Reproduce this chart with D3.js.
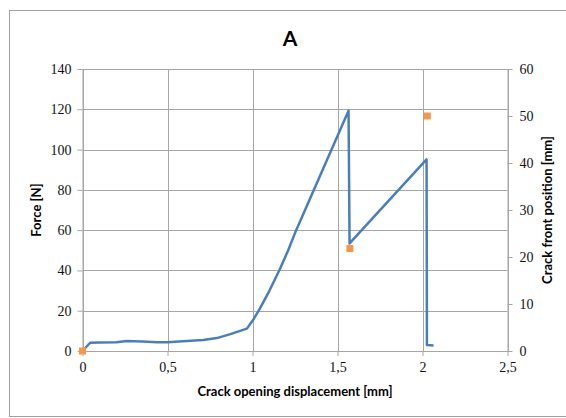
<!DOCTYPE html>
<html><head><meta charset="utf-8">
<script src="https://cdn.jsdelivr.net/npm/d3@7"></script>
<style>body{margin:0;background:#fff}svg{display:block}</style>
</head><body><svg id="c" width="566" height="418"></svg>
<script>
const title = "A";
const xLabel = "Crack opening displacement [mm]";
const yLabel = "Force [N]";
const y2Label = "Crack front position [mm]";
const xTicks = [0, 0.5, 1, 1.5, 2, 2.5];
const yTicks = [0, 20, 40, 60, 80, 100, 120, 140];
const y2Ticks = [0, 10, 20, 30, 40, 50, 60];
const codForce = [0, 0.045, 0.1, 0.2, 0.26, 0.35, 0.44, 0.5, 0.59, 0.71, 0.79, 0.87, 0.967, 1.0, 1.04, 1.1, 1.16, 1.21, 1.257, 1.565, 1.571, 1.8, 2.024, 2.026, 2.065];
const force = [0, 4.1, 4.2, 4.3, 5.0, 4.7, 4.3, 4.3, 4.8, 5.5, 6.4, 8.4, 11.1, 15, 20.5, 30, 40.5, 50, 60, 119.3, 53.4, 74.5, 95.1, 3.0, 2.7];
const codCrack = [0, 1.573, 2.028];
const crackPos = [0, 21.8, 50];

const svg = d3.select("#c");
const L = 82.5, R = 507.5, T = 69, B = 351;
const x = d3.scaleLinear().domain([0, 2.5]).range([L, R]);
const y = d3.scaleLinear().domain([0, 140]).range([B, T]);
const y2 = d3.scaleLinear().domain([0, 60]).range([B, T]);
const grid = "#a6a6a6";
const serif = "'Liberation Serif', 'DejaVu Serif', serif";
const sans = "Lato, 'Open Sans', sans-serif";

svg.append("rect").attr("x", 9.5).attr("y", 10.5).attr("width", 560).attr("height", 406)
  .attr("fill", "#fff").attr("stroke", "#a0a0a0").attr("stroke-width", 1);

// gridlines
svg.append("g").selectAll("line").data(yTicks).join("line")
  .attr("x1", L).attr("x2", R).attr("y1", d => Math.round(y(d)) + 0.5).attr("y2", d => Math.round(y(d)) + 0.5)
  .attr("stroke", grid);
svg.append("g").selectAll("line").data(xTicks).join("line")
  .attr("y1", T).attr("y2", B).attr("x1", d => Math.round(x(d)) + 0.5).attr("x2", d => Math.round(x(d)) + 0.5)
  .attr("stroke", grid);

// axes
const axStyle = g => {
  g.select(".domain").attr("stroke", grid);
  g.selectAll(".tick line").attr("stroke", grid);
  g.selectAll("text").attr("font-family", serif).attr("font-size", 14).attr("fill", "#111");
};
svg.append("g").attr("transform", `translate(${L},0)`)
  .call(d3.axisLeft(y).tickValues(yTicks).tickSize(5).tickSizeOuter(0).tickPadding(6).tickFormat(d3.format("d")))
  .call(axStyle);
svg.append("g").attr("transform", `translate(${R},0)`)
  .call(d3.axisRight(y2).tickValues(y2Ticks).tickSize(5).tickSizeOuter(0).tickPadding(7).tickFormat(d3.format("d")))
  .call(axStyle);
svg.append("g").attr("transform", `translate(0,${B})`)
  .call(d3.axisBottom(x).tickValues(xTicks).tickSize(5).tickSizeOuter(0).tickPadding(6).tickFormat(d => String(d).replace(".", ",")))
  .call(axStyle);

// force line
const line = d3.line().x((d, i) => x(codForce[i])).y(d => y(d));
svg.append("path").datum(force).attr("d", line).attr("fill", "none")
  .attr("stroke", "#4a7ebb").attr("stroke-width", 2.5).attr("stroke-linejoin", "round");

// crack markers
svg.append("g").selectAll("rect").data(crackPos).join("rect")
  .attr("x", (d, i) => x(codCrack[i]) - 3.5).attr("y", d => y2(d) - 3.5)
  .attr("width", 7).attr("height", 7).attr("fill", "#f79646");

// titles
svg.append("text").attr("x", 290).attr("y", 46).attr("text-anchor", "middle")
  .attr("font-family", sans).attr("font-weight", "bold").attr("font-size", 21).attr("fill", "#000").text(title);
svg.append("text").attr("x", 295).attr("y", 396).attr("text-anchor", "middle")
  .attr("font-family", sans).attr("font-weight", "bold").attr("font-size", 13).attr("fill", "#000").text(xLabel);
svg.append("text").attr("transform", "translate(41,210) rotate(-90)").attr("text-anchor", "middle")
  .attr("font-family", sans).attr("font-weight", "bold").attr("font-size", 13).attr("fill", "#000").text(yLabel);
svg.append("text").attr("transform", "translate(552,210) rotate(-90)").attr("text-anchor", "middle")
  .attr("font-family", sans).attr("font-weight", "bold").attr("font-size", 13).attr("fill", "#000").text(y2Label);
</script></body></html>
